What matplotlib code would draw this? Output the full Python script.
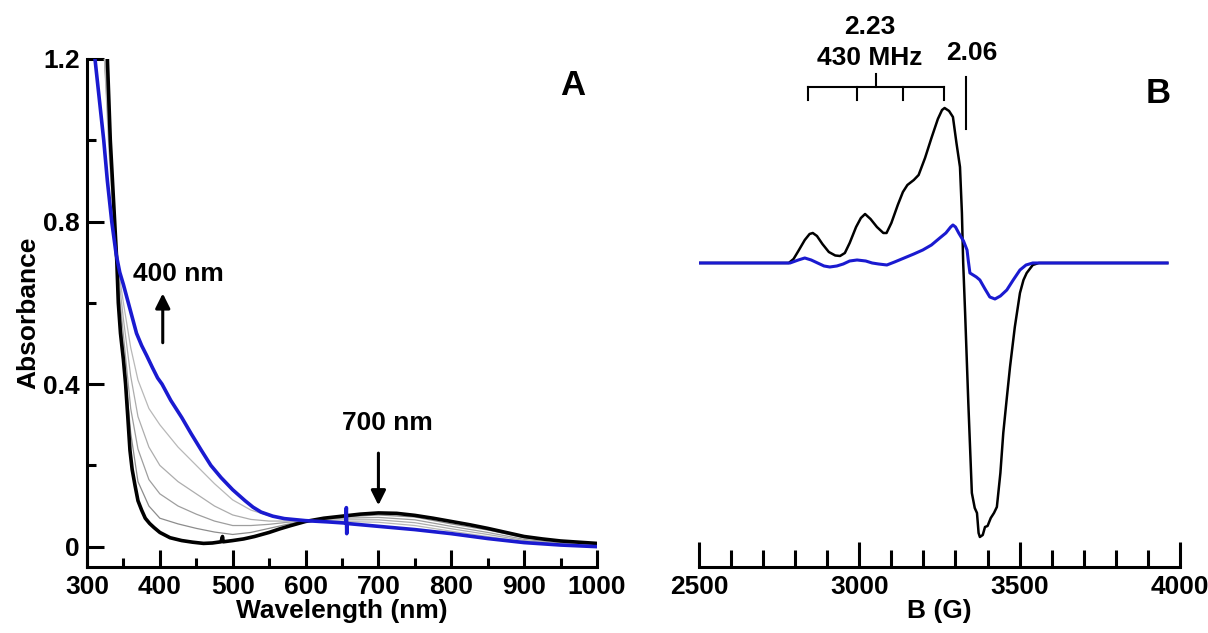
import matplotlib
matplotlib.use("Agg")
import matplotlib.pyplot as plt
from matplotlib.ticker import MultipleLocator, FixedLocator

plt.rcParams["font.family"] = ["Liberation Sans", "DejaVu Sans"]
plt.rcParams["font.weight"] = "bold"
plt.rcParams["axes.labelweight"] = "bold"
plt.rcParams["font.size"] = 19

# ---- panel A: UV-vis spectra (wavelength nm, absorbance) ----
wl_black = [328, 332, 335, 338, 341, 343, 346, 350, 353, 356, 359, 362, 366, 370, 375, 380, 386, 392,
            400, 414, 430, 445, 460, 472, 484, 486, 487, 500, 515, 530, 550, 565, 580, 600, 625, 650,
            675, 700, 725, 750, 775, 800, 825, 850, 875, 900, 925, 950, 975, 1000]
abs_black = [1.2, 1.0, 0.9, 0.8, 0.7, 0.6, 0.525, 0.46, 0.4, 0.32, 0.237, 0.19, 0.15, 0.113, 0.09, 0.07, 0.057, 0.047,
             0.035, 0.022, 0.015, 0.011, 0.008, 0.009, 0.012, 0.025, 0.012, 0.015, 0.019, 0.025, 0.035, 0.044, 0.052, 0.062, 0.07, 0.075,
             0.08, 0.083, 0.082, 0.077, 0.07, 0.062, 0.054, 0.045, 0.035, 0.025, 0.019, 0.014, 0.011, 0.008]

wl_blue = [311, 317, 323, 328, 334, 340, 345, 350, 356, 362, 368, 375, 382, 390, 397, 403, 415, 430, 443,
           457, 470, 484, 500, 517, 528, 539, 555, 571, 600, 630, 655, 656, 656.5, 657, 700, 750, 800,
           850, 900, 950, 1000]
abs_blue = [1.2, 1.1, 1.0, 0.9, 0.8, 0.72, 0.675, 0.645, 0.605, 0.565, 0.525, 0.495, 0.47, 0.44, 0.415, 0.40, 0.36, 0.318, 0.278,
            0.237, 0.2, 0.17, 0.14, 0.113, 0.097, 0.085, 0.075, 0.069, 0.064, 0.061, 0.058, 0.096, 0.032, 0.057, 0.05, 0.042, 0.032,
            0.02, 0.01, 0.004, 0.0]

wl_grey = [324, 330, 335, 340, 345, 350, 360, 370, 385, 400, 425, 450, 475, 500, 525, 550, 575, 600,
           650, 700, 750, 800, 850, 900, 950, 1000]
abs_grey = [
    [1.2, 1.08, 0.9, 0.71, 0.59, 0.48, 0.28, 0.16, 0.10, 0.07, 0.056, 0.045, 0.036, 0.03, 0.035, 0.045, 0.055, 0.064,
     0.073, 0.078, 0.073, 0.056, 0.041, 0.022, 0.012, 0.006],
    [1.2, 1.05, 0.88, 0.71, 0.61, 0.52, 0.34, 0.24, 0.165, 0.13, 0.10, 0.08, 0.063, 0.052, 0.052, 0.055, 0.06, 0.064,
     0.070, 0.072, 0.066, 0.050, 0.035, 0.018, 0.009, 0.004],
    [1.2, 1.02, 0.86, 0.72, 0.64, 0.56, 0.42, 0.32, 0.245, 0.20, 0.16, 0.13, 0.10, 0.078, 0.067, 0.063, 0.063, 0.064,
     0.066, 0.066, 0.059, 0.044, 0.030, 0.015, 0.007, 0.003],
    [1.2, 0.98, 0.84, 0.72, 0.66, 0.60, 0.49, 0.41, 0.34, 0.30, 0.245, 0.20, 0.155, 0.115, 0.09, 0.076, 0.068, 0.064,
     0.062, 0.060, 0.052, 0.038, 0.025, 0.012, 0.005, 0.002],
]
grey_colors = ["0.55", "0.62", "0.68", "0.72"]

# ---- panel B: EPR spectra (field G, arbitrary intensity) ----
field_black = [2500, 2780, 2795, 2810, 2830, 2845, 2855, 2868, 2885, 2905, 2925, 2940, 2955, 2970, 2990,
               3005, 3018, 3035, 3055, 3075, 3085, 3100, 3120, 3136, 3150, 3170, 3185, 3205, 3225, 3245,
               3258, 3266, 3280, 3292, 3303, 3314, 3320, 3324, 3330, 3340, 3351, 3360, 3367, 3372, 3376,
               3385, 3392, 3400, 3410, 3420, 3429, 3440, 3449, 3460, 3470, 3485, 3501, 3512, 3522, 3541,
               3560, 3960]
sig_black = [0, 0, 0.04, 0.12, 0.23, 0.29, 0.30, 0.27, 0.19, 0.11, 0.075, 0.07, 0.10, 0.2, 0.36,
             0.45, 0.49, 0.44, 0.36, 0.30, 0.30, 0.40, 0.58, 0.71, 0.78, 0.83, 0.88, 1.05, 1.25, 1.44,
             1.53, 1.55, 1.52, 1.46, 1.2, 0.96, 0.5, 0.0, -0.5, -1.4, -2.3, -2.45, -2.5, -2.7, -2.74,
             -2.72, -2.64, -2.63, -2.55, -2.5, -2.44, -2.1, -1.7, -1.35, -1.04, -0.64, -0.3, -0.17, -0.1, -0.02,
             0, 0]

field_blue = [2500, 2784, 2810, 2830, 2850, 2870, 2890, 2908, 2930, 2950, 2970, 2993, 3020, 3040, 3060,
              3086, 3110, 3140, 3170, 3198, 3225, 3251, 3270, 3285, 3292, 3300, 3310, 3325, 3336, 3340,
              3345, 3355, 3365, 3376, 3392, 3407, 3423, 3440, 3460, 3480, 3501, 3520, 3541, 3960]
sig_blue = [0, 0, 0.03, 0.05, 0.03, 0.0, -0.03, -0.04, -0.03, -0.01, 0.02, 0.03, 0.02, 0.0, -0.01,
            -0.02, 0.01, 0.05, 0.09, 0.13, 0.18, 0.25, 0.30, 0.36, 0.38, 0.36, 0.30, 0.22, 0.13, 0.02,
            -0.10, -0.12, -0.14, -0.17, -0.26, -0.34, -0.36, -0.33, -0.27, -0.17, -0.07, -0.02, 0.0, 0]

hf_lines = [2840, 2993, 3136, 3264]
g206_field = 3333

fig = plt.figure(figsize=(12.08, 6.33), dpi=100)

# panel A
ax1 = fig.add_axes([0.072, 0.1043, 0.4222, 0.8025])
for vals, c in zip(abs_grey, grey_colors):
    ax1.plot(wl_grey, vals, color=c, lw=0.9)
ax1.plot(wl_black, abs_black, color="black", lw=2.6)
ax1.plot(wl_blue, abs_blue, color="#1a1ad0", lw=2.6)

ax1.set_xlim(300, 1000)
ax1.set_ylim(-0.05, 1.2)
ax1.xaxis.set_major_locator(MultipleLocator(100))
ax1.xaxis.set_minor_locator(MultipleLocator(50))
ax1.yaxis.set_major_locator(FixedLocator([0, 0.4, 0.8, 1.2]))
ax1.yaxis.set_minor_locator(FixedLocator([0.2, 0.6, 1.0]))
ax1.set_yticklabels(["0", "0.4", "0.8", "1.2"])
for s in ["top", "right"]:
    ax1.spines[s].set_visible(False)
for s in ["left", "bottom"]:
    ax1.spines[s].set_linewidth(2.2)
ax1.tick_params(which="major", direction="in", length=12, width=2.2, pad=6)
ax1.tick_params(which="minor", direction="in", length=6.5, width=2.2)
ax1.tick_params(axis="y", pad=5)
ax1.set_xlabel("Wavelength (nm)", labelpad=0)
ax1.set_ylabel("Absorbance", labelpad=2)

ax1.annotate("", xy=(404, 0.63), xytext=(404, 0.495),
             arrowprops=dict(arrowstyle="-|>", lw=2.2, color="black", mutation_scale=22))
ax1.text(426, 0.672, "400 nm", ha="center", va="center")
ax1.annotate("", xy=(700, 0.095), xytext=(700, 0.237),
             arrowprops=dict(arrowstyle="-|>", lw=2.2, color="black", mutation_scale=22))
ax1.text(712, 0.305, "700 nm", ha="center", va="center")
ax1.text(967, 1.136, "A", ha="center", va="center", fontsize=25)

# panel B
ax2 = fig.add_axes([0.5786, 0.1043, 0.3982, 0.8957])
ax2.plot(field_black, sig_black, color="black", lw=1.8)
ax2.plot(field_blue, sig_blue, color="#1a1ad0", lw=2.2)

ax2.set_xlim(2500, 4000)
ax2.set_ylim(-3.04, 2.63)
ax2.xaxis.set_major_locator(MultipleLocator(500))
ax2.xaxis.set_minor_locator(MultipleLocator(100))
ax2.set_yticks([])
for s in ["top", "right", "left"]:
    ax2.spines[s].set_visible(False)
ax2.spines["bottom"].set_linewidth(2.2)
ax2.tick_params(which="major", direction="in", length=18, width=2.2, pad=6)
ax2.tick_params(which="minor", direction="in", length=12, width=2.2)
ax2.set_xlabel("B (G)", labelpad=0)

# hyperfine bracket and g markers
ax2.plot([hf_lines[0], hf_lines[-1]], [1.76, 1.76], color="black", lw=1.5)
for f in hf_lines:
    ax2.plot([f, f], [1.63, 1.76], color="black", lw=1.5)
ax2.plot([3052, 3052], [1.76, 1.89], color="black", lw=1.5)
ax2.plot([g206_field, g206_field], [1.34, 1.86], color="black", lw=1.5)
ax2.text(3033, 2.36, "2.23", ha="center", va="center")
ax2.text(3033, 2.05, "430 MHz", ha="center", va="center")
ax2.text(3351, 2.10, "2.06", ha="center", va="center")
ax2.text(3931, 1.695, "B", ha="center", va="center", fontsize=25)

fig.savefig("out.png", dpi=100)
